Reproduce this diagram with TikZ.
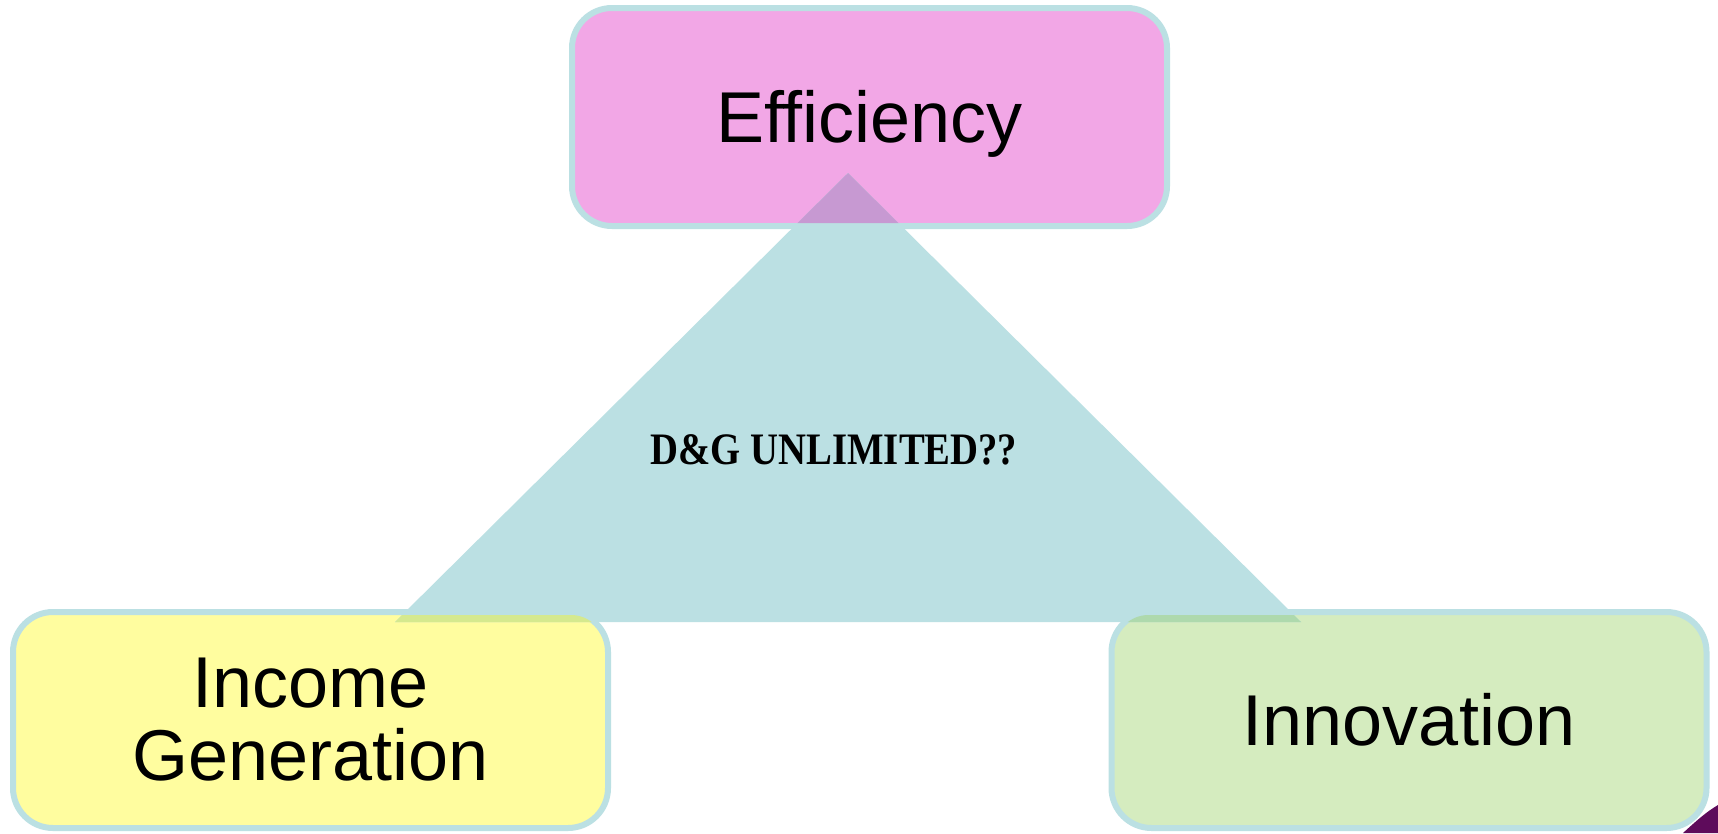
\documentclass[tikz,border=0pt]{standalone}
\usepackage{fontspec}
\usepackage{graphicx}
\setmainfont{Liberation Sans}
\newfontfamily\serifb{Liberation Serif}
\definecolor{tealc}{HTML}{BBE0E3}
\definecolor{pinkc}{HTML}{F2A7E6}
\definecolor{yellowc}{HTML}{FFFD9F}
\definecolor{greenc}{HTML}{D5ECBF}
\definecolor{pinkov}{HTML}{C799D2}
\definecolor{yellowov}{HTML}{D5E98E}
\definecolor{greenov}{HTML}{AED9AD}
\definecolor{cornerc}{HTML}{5E0B5B}
\tikzset{
  box/.style={draw=tealc, line width=6pt, rounded corners=40pt,
    minimum width=595pt, minimum height=216pt, inner sep=0pt,
    font=\fontsize{72}{73}\selectfont, align=center},
  oneline/.style={text height=52pt, text depth=2pt},
  overlap/.style={rounded corners=34pt}
}
\begin{document}
\begin{tikzpicture}[x=1pt,y=-1pt]
\fill[white] (0,0) rectangle (1718,833);
\useasboundingbox (0,0) rectangle (1718,833);
% boxes
\node[box, oneline, fill=pinkc, minimum height=218pt] (eff) at (869.5,117) {Efficiency};
\node[box, fill=yellowc] (inc) at (310.5,720) {Income\\Generation};
\node[box, oneline, fill=greenc] (inn) at (1409,720) {Innovation};
% triangle
\coordinate (apex) at (848,173);
\coordinate (bl) at (395,622);
\coordinate (br) at (1301,622);
\fill[tealc] (apex) -- (bl) -- (br) -- cycle;
\begin{scope}
  \clip (apex) -- (bl) -- (br) -- cycle;
  \fill[pinkov, overlap] ([shift={(6,6)}]eff.north west) rectangle ([shift={(-6,-6)}]eff.south east);
  \fill[yellowov, overlap] ([shift={(6,6)}]inc.north west) rectangle ([shift={(-6,-6)}]inc.south east);
  \fill[greenov, overlap] ([shift={(6,6)}]inn.north west) rectangle ([shift={(-6,-6)}]inn.south east);
\end{scope}
% centre text
\node[anchor=base, inner sep=0pt, font=\serifb\bfseries\fontsize{45}{50}\selectfont] (dg) at (834,464.5) {\scalebox{0.86}[1]{D\&G UNLIMITED??}};
% corner shape
\fill[cornerc] (1683,833) .. controls (1695,822) and (1706,812) .. (1718,805) -- (1718,833) -- cycle;
\end{tikzpicture}
\end{document}
